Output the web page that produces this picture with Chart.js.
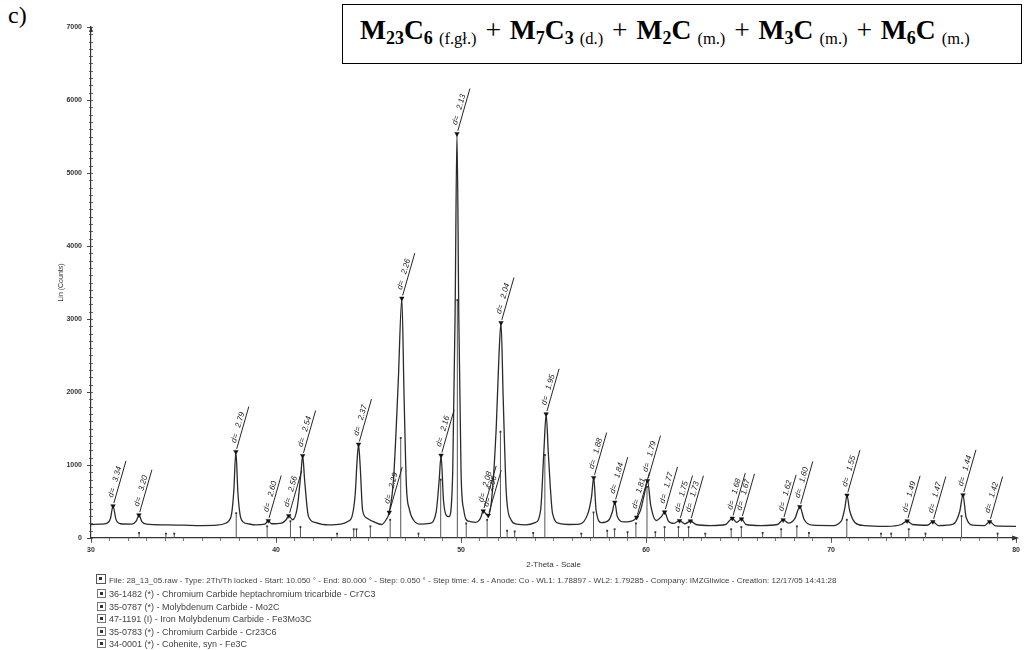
<!DOCTYPE html>
<html>
<head>
<meta charset="utf-8">
<script src="https://cdn.jsdelivr.net/npm/chart.js@4.4.1/dist/chart.umd.min.js"></script>
<style>
  html, body { margin: 0; padding: 0; background: #fff; width: 1025px; height: 650px; overflow: hidden; }
  body { position: relative; font-family: "Liberation Sans", Arial, sans-serif; }
  #wrap { position: absolute; left: 0; top: 0; width: 1025px; height: 575px; }
  #wrap canvas { filter: blur(0.35px); }
  #tag { position: absolute; left: 8px; top: 2px; font: 24px "Liberation Serif", "Times New Roman", serif; color: #000; }
  #formula {
    position: absolute; left: 342px; top: 4px; width: 680px; height: 60px;
    border: 1.5px solid #000; box-sizing: border-box;
    font: bold 27.5px "Liberation Serif", "Times New Roman", serif; color: #000;
    white-space: nowrap; line-height: 50px; padding-left: 17px; word-spacing: 2px;
  }
  #formula sub { font-size: 18px; vertical-align: -5px; line-height: 0; }
  #formula .ph { font-weight: normal; font-size: 16.5px; vertical-align: -5px; line-height: 0; }
  #formula .op { font-weight: normal; }
  #info { position: absolute; left: 96px; top: 574px; color: #444; filter: blur(0.3px); }
  #info .row { position: absolute; left: 0; white-space: nowrap; height: 11px; line-height: 11px; font-size: 9px; }
  #info .row.head { font-size: 8.05px; }
  #info .ico { display: inline-block; width: 7px; height: 7px; border: 1px solid #777; vertical-align: -1px; margin-right: 3px; position: relative; }
  #info .ico::after { content: ""; position: absolute; left: 2px; top: 2px; width: 3px; height: 3px; background: #333; }
  #info .ico.file { width: 8px; height: 8px; border-color: #555; }
</style>
</head>
<body>
<div id="tag">c)</div>
<div id="formula">M<sub>23</sub>C<sub>6</sub><span class="ph">&nbsp;(f.gł.)</span><span class="op"> + </span>M<sub>7</sub>C<sub>3</sub><span class="ph">&nbsp;(d.)</span><span class="op"> + </span>M<sub>2</sub>C<span class="ph">&nbsp;(m.)</span><span class="op"> + </span>M<sub>3</sub>C<span class="ph">&nbsp;(m.)</span><span class="op"> + </span>M<sub>6</sub>C<span class="ph">&nbsp;(m.)</span></div>
<div id="wrap"><canvas id="xrd"></canvas></div>
<div id="info"></div>

<script>
// Measured diffractogram (2-theta in degrees, intensity in counts)
const twoTheta = [
  30.0, 30.5, 30.85, 31.05, 31.19, 31.35, 31.6, 32.2, 32.45, 32.59, 32.75, 33.0, 34.0, 35.0, 36.0, 36.8,
  37.3, 37.45, 37.6, 37.72, 37.83, 37.94, 38.05, 38.2, 38.5, 38.9, 39.4, 39.58, 39.75, 40.3, 40.55, 40.69,
  40.9, 41.15, 41.35, 41.44, 41.55, 41.75, 42.1, 42.8, 43.5, 43.9, 44.1, 44.28, 44.38, 44.46, 44.55, 44.68,
  44.9, 45.3, 45.7, 45.95, 46.12, 46.35, 46.6, 46.8, 46.92, 47.05, 47.2, 47.45, 47.8, 48.3, 48.65, 48.82,
  48.92, 49.05, 49.2, 49.35, 49.55, 49.68, 49.78, 49.88, 50.0, 50.15, 50.4, 50.8, 51.05, 51.2, 51.35, 51.47,
  51.65, 51.9, 52.05, 52.16, 52.28, 52.45, 52.7, 53.0, 53.5, 54.0, 54.3, 54.48, 54.6, 54.72, 54.95, 55.3,
  55.8, 56.4, 56.85, 57.05, 57.17, 57.3, 57.6, 58.0, 58.18, 58.31, 58.45, 58.8, 59.3, 59.49, 59.7, 59.95,
  60.08, 60.25, 60.55, 60.85, 61.0, 61.2, 61.5, 61.81, 62.1, 62.4, 62.7, 63.5, 64.3, 64.66, 64.9, 65.16,
  65.4, 66.2, 67.1, 67.41, 67.7, 68.05, 68.31, 68.55, 69.0, 70.0, 70.55, 70.75, 70.86, 71.0, 71.3, 71.8,
  73.0, 73.8, 74.11, 74.4, 75.2, 75.5, 75.8, 76.6, 76.95, 77.13, 77.3, 77.7, 78.3, 78.57, 78.9, 80.0
];
const counts = [
  185, 190, 200, 265, 438, 255, 195, 190, 235, 315, 225, 190, 180, 175, 170, 175,
  205, 235, 330, 650, 1182, 620, 330, 225, 195, 180, 190, 237, 195, 205, 250, 305,
  250, 420, 900, 1127, 780, 300, 215, 180, 190, 230, 290, 600, 1050, 1283, 980, 380,
  275, 220, 185, 250, 352, 800, 2100, 3283, 1950, 700, 400, 240, 190, 200, 350, 800,
  1132, 520, 310, 292, 900, 3100, 5538, 3000, 900, 380, 230, 215, 270, 370, 330, 310,
  520, 1500, 2500, 2949, 1900, 600, 250, 190, 180, 210, 380, 1200, 1699, 1150, 330, 200,
  185, 190, 330, 560, 826, 380, 210, 250, 360, 489, 290, 220, 240, 283, 380, 650,
  785, 450, 240, 300, 356, 235, 200, 237, 195, 233, 185, 170, 185, 270, 215, 260,
  185, 170, 185, 247, 205, 270, 429, 250, 175, 170, 230, 420, 585, 380, 210, 170,
  160, 185, 233, 185, 175, 223, 170, 190, 360, 589, 280, 175, 170, 223, 165, 160
];

// Identified reflections: position, intensity at the marker, d-spacing (Å)
const peakTheta  = [31.19, 32.59, 37.83, 39.58, 40.69, 41.44, 44.46, 46.12, 46.80, 48.92, 49.78, 51.20, 51.47, 52.16, 54.60, 57.17, 58.31, 59.49, 60.08, 61.00, 61.81, 62.40, 64.66, 65.16, 67.41, 68.31, 70.86, 74.11, 75.50, 77.13, 78.57];
const peakCounts = [438, 315, 1182, 237, 305, 1127, 1283, 352, 3283, 1132, 5538, 370, 310, 2949, 1699, 826, 489, 283, 785, 356, 237, 233, 270, 260, 247, 429, 585, 233, 223, 589, 223];
const peakD      = ["3.34", "3.20", "2.79", "2.60", "2.56", "2.54", "2.37", "2.29", "2.26", "2.16", "2.13", "2.08", "2.06", "2.04", "1.95", "1.88", "1.84", "1.81", "1.79", "1.77", "1.75", "1.73", "1.68", "1.67", "1.62", "1.60", "1.55", "1.49", "1.47", "1.44", "1.42"];

// Reference pattern lines (stick positions and heights)
const stickTheta  = [32.6, 34.05, 34.5, 37.85, 39.52, 40.78, 41.32, 43.3, 44.2, 44.35, 45.1, 46.17, 46.74, 47.7, 48.9, 49.8, 50.28, 51.41, 52.13, 52.49, 52.9, 53.9, 54.53, 56.5, 57.16, 57.9, 58.3, 59.0, 59.45, 60.05, 60.5, 61.0, 61.75, 62.3, 63.2, 64.6, 65.15, 66.3, 67.3, 68.15, 68.8, 70.85, 72.7, 73.25, 74.2, 75.1, 77.05, 79.0];
const stickCounts = [70, 60, 60, 340, 160, 230, 150, 60, 120, 120, 160, 250, 1370, 60, 800, 3260, 200, 250, 1456, 100, 90, 70, 1137, 60, 350, 100, 120, 80, 200, 700, 80, 150, 150, 150, 60, 120, 150, 70, 120, 160, 70, 250, 60, 60, 120, 60, 300, 60];

const xLabelValues = [30, 40, 50, 60, 70, 80];
const yMax = 7000;

const infoHeader = "File: 28_13_05.raw - Type: 2Th/Th locked - Start: 10.050 ° - End: 80.000 ° - Step: 0.050 ° - Step time: 4. s - Anode: Co - WL1: 1.78897 - WL2: 1.79285 - Company: IMZGliwice - Creation: 12/17/05 14:41:28";
const phaseCards = [
  "36-1482 (*) - Chromium Carbide heptachromium tricarbide - Cr7C3",
  "35-0787 (*) - Molybdenum Carbide - Mo2C",
  "47-1191 (I) - Iron Molybdenum Carbide - Fe3Mo3C",
  "35-0783 (*) - Chromium Carbide - Cr23C6",
  "34-0001 (*) - Cohenite, syn - Fe3C"
];

// Scan info and phase list under the plot
(function buildInfo() {
  const info = document.getElementById('info');
  const rowsTop = [0, 15, 27.5, 40, 52.5, 65];
  const lines = [infoHeader].concat(phaseCards);
  lines.forEach((txt, i) => {
    const row = document.createElement('div');
    row.className = 'row' + (i === 0 ? ' head' : '');
    row.style.top = rowsTop[i] + 'px';
    row.style.left = (i === 0 ? 0 : 1) + 'px';
    const ico = document.createElement('span');
    ico.className = 'ico' + (i === 0 ? ' file' : '');
    row.appendChild(ico);
    row.appendChild(document.createTextNode(txt));
    info.appendChild(row);
  });
})();

const profile = twoTheta.map((t, i) => ({ x: t, y: counts[i] }));
const markers = peakTheta.map((t, i) => ({ x: t, y: peakCounts[i] }));
const sticks = [];
stickTheta.forEach((t, i) => {
  sticks.push({ x: t, y: 0 });
  sticks.push({ x: t, y: stickCounts[i], top: true });
  sticks.push({ x: t, y: null });
});

// Minor ticks on the intensity axis and arrow heads on both axes
const axisDecor = {
  id: 'axisDecor',
  afterDraw(chart) {
    const { ctx, scales: { x, y } } = chart;
    const x0 = x.left;
    ctx.save();
    ctx.strokeStyle = '#444';
    ctx.lineWidth = 0.8;
    for (let v = 0; v <= yMax; v += 100) {
      const py = Math.round(y.getPixelForValue(v)) + 0.5;
      ctx.beginPath();
      ctx.moveTo(x0 - 2, py);
      ctx.lineTo(x0 + 2, py);
      ctx.stroke();
    }
    for (let v = 30; v <= 80; v += 10) {
      const px = Math.round(x.getPixelForValue(v)) + 0.5;
      ctx.beginPath();
      ctx.moveTo(px, y.bottom);
      ctx.lineTo(px, y.bottom + 5);
      ctx.stroke();
    }
    ctx.fillStyle = '#333';
    const yb = y.bottom;
    ctx.beginPath();
    ctx.moveTo(x.right + 3, yb);
    ctx.lineTo(x.right - 4, yb - 2.5);
    ctx.lineTo(x.right - 4, yb + 2.5);
    ctx.closePath();
    ctx.fill();
    ctx.beginPath();
    ctx.moveTo(x0, y.top - 1);
    ctx.lineTo(x0 - 2, y.top + 5);
    ctx.lineTo(x0 + 2, y.top + 5);
    ctx.closePath();
    ctx.fill();
    ctx.restore();
  }
};

// Slanted d-spacing labels attached to the peak markers
const dLabels = {
  id: 'dLabels',
  afterDatasetsDraw(chart) {
    const { ctx, scales: { x, y } } = chart;
    const ang = -74 * Math.PI / 180;
    ctx.save();
    ctx.strokeStyle = '#222';
    ctx.fillStyle = '#1a1a1a';
    ctx.lineWidth = 0.9;
    ctx.font = 'italic 8px "Liberation Sans", Arial, sans-serif';
    ctx.textBaseline = 'alphabetic';
    peakTheta.forEach((t, i) => {
      const px = x.getPixelForValue(t);
      const py = y.getPixelForValue(peakCounts[i]);
      ctx.save();
      ctx.translate(px, py);
      ctx.rotate(ang);
      ctx.beginPath();
      ctx.moveTo(3, 0);
      ctx.lineTo(47, 0);
      ctx.stroke();
      ctx.fillText('d=', 8, -2.5);
      ctx.fillText(peakD[i], 24, -2.5);
      ctx.restore();
    });
    ctx.restore();
  }
};

new Chart(document.getElementById('xrd'), {
  type: 'line',
  data: {
    datasets: [
      {
        data: sticks,
        borderColor: '#555',
        borderWidth: 1,
        spanGaps: false,
        pointRadius: c => (c.raw && c.raw.top ? 1.3 : 0),
        pointStyle: 'rect',
        pointBackgroundColor: '#333',
        pointBorderWidth: 0,
        order: 3
      },
      {
        data: profile,
        borderColor: '#2a2a2a',
        borderWidth: 1.3,
        cubicInterpolationMode: 'monotone',
        pointRadius: 0,
        order: 2
      },
      {
        data: markers,
        showLine: false,
        pointStyle: 'triangle',
        rotation: 180,
        pointRadius: 2.6,
        pointBackgroundColor: '#111',
        pointBorderColor: '#111',
        pointBorderWidth: 0.5,
        order: 1
      }
    ]
  },
  options: {
    responsive: true,
    maintainAspectRatio: false,
    animation: false,
    events: [],
    layout: { padding: { left: 0, right: 5, top: 27, bottom: 0 } },
    plugins: { legend: { display: false }, tooltip: { enabled: false } },
    scales: {
      x: {
        type: 'linear', min: 30, max: 80,
        border: { display: true, color: '#333', width: 1.2 },
        grid: { display: true, drawOnChartArea: false, tickLength: 3, color: '#555', lineWidth: 0.8 },
        ticks: {
          stepSize: 1, autoSkip: false, maxRotation: 0, padding: 5, color: '#333',
          font: { size: 7, family: '"Liberation Sans", Arial, sans-serif', weight: 'bold' },
          callback: v => (xLabelValues.includes(v) ? String(v) : '')
        },
        title: {
          display: true, text: '2-Theta - Scale', color: '#333',
          font: { size: 8, family: '"Liberation Sans", Arial, sans-serif' },
          padding: { top: 0, bottom: 5 }
        },
        afterFit: s => { s.height = 37; }
      },
      y: {
        min: 0, max: yMax,
        border: { display: true, color: '#333', width: 1.2 },
        grid: { display: true, drawOnChartArea: false, tickLength: 4, color: '#444', lineWidth: 1 },
        ticks: {
          stepSize: 1000, padding: 5, color: '#333',
          font: { size: 7, family: '"Liberation Sans", Arial, sans-serif', weight: 'bold' },
          callback: v => String(v)
        },
        title: {
          display: true, text: 'Lin (Counts)', color: '#333',
          font: { size: 7, family: '"Liberation Sans", Arial, sans-serif' },
          padding: { top: 57 }
        },
        afterFit: s => { s.width = 91; }
      }
    }
  },
  plugins: [axisDecor, dLabels]
});
</script>
</body>
</html>
